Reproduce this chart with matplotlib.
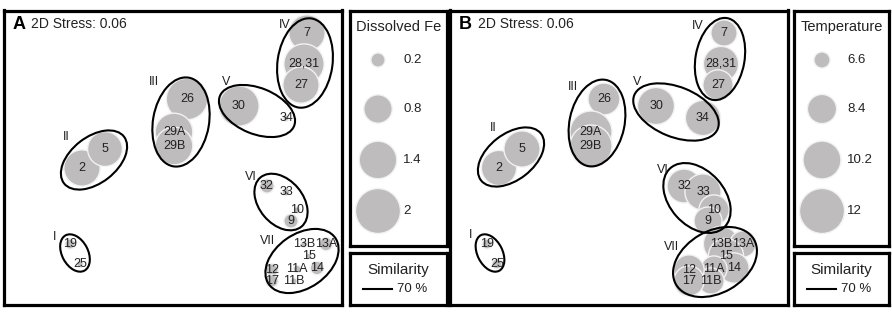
import matplotlib
matplotlib.use("Agg")
import matplotlib.pyplot as plt
from matplotlib.patches import Circle, Ellipse
import numpy as np

plt.rcParams['font.family'] = ['Liberation Sans', 'DejaVu Sans']

# ---------------- data ----------------
samples = ['19', '25', '2', '5', '26', '29A', '29B', '30', '34', '7', '28,31', '27',
           '32', '33', '10', '9', '13B', '13A', '15', '14', '11A', '11B', '12', '17']
mds1 = [-1.20, -1.10, -1.08, -0.85, -0.03, -0.16, -0.16, 0.49, 0.96, 1.17, 1.14, 1.11,
        0.77, 0.96, 1.07, 1.01, 1.14, 1.36, 1.19, 1.27, 1.07, 1.04, 0.82, 0.82]
mds2 = [-0.94, -1.14, -0.18, 0.01, 0.51, 0.18, 0.04, 0.44, 0.32, 1.17, 0.86, 0.65,
        -0.36, -0.42, -0.60, -0.71, -0.94, -0.94, -1.06, -1.18, -1.19, -1.31, -1.20, -1.31]
dissolved_fe = [0.10, 0.04, 1.3, 1.2, 1.7, 1.4, 1.4, 1.6, 0.04, 1.3, 1.6, 1.3,
                0.20, 0.06, 0.04, 0.20, 0.04, 0.18, 0.03, 0.18, 0.06, 0.04, 0.15, 0.15]
temperature = [6.1, 6.1, 9.6, 9.8, 8.9, 11.2, 11.2, 10.0, 9.6, 7.9, 9.6, 8.6,
               9.3, 9.8, 8.6, 8.2, 9.6, 7.9, 9.6, 8.6, 7.9, 7.9, 8.6, 8.6]

fe_legend = [0.2, 0.8, 1.4, 2]
fe_legend_labels = ['0.2', '0.8', '1.4', '2']
temp_legend = [6.6, 8.4, 10.2, 12]
temp_legend_labels = ['6.6', '8.4', '10.2', '12']

clusters = ['I', 'II', 'III', 'IV', 'V', 'VI', 'VII']
# 70 % similarity contours, panel A
a_cx = [-1.15, -0.96, -0.09, 1.15, 0.67, 0.91, 1.12]
a_cy = [-1.03, -0.10, 0.28, 0.87, 0.39, -0.52, -1.11]
a_major = [0.40, 0.76, 0.90, 0.90, 0.80, 0.64, 0.81]
a_minor = [0.26, 0.46, 0.56, 0.55, 0.46, 0.44, 0.54]
a_angle = [-62, 38, 80, 82, -22, -50, 35]
a_lab_x = [-1.35, -1.24, -0.36, 0.95, 0.36, 0.61, 0.77]
a_lab_y = [-0.87, 0.13, 0.68, 1.25, 0.68, -0.27, -0.91]
# panel B
b_cx = [-1.17, -0.96, -0.10, 1.13, 0.69, 0.90, 1.08]
b_cy = [-1.03, -0.07, 0.27, 0.91, 0.38, -0.48, -1.12]
b_major = [0.40, 0.76, 0.88, 0.83, 0.90, 0.80, 0.90]
b_minor = [0.25, 0.46, 0.55, 0.49, 0.50, 0.55, 0.62]
b_angle = [-63, 38, 78, 80, -22, -48, 30]
b_lab_x = [-1.36, -1.14, -0.34, 0.91, 0.30, 0.56, 0.65]
b_lab_y = [-0.85, 0.22, 0.63, 1.24, 0.68, -0.20, -0.97]

stress = 0.06

# ---------------- layout helpers ----------------
W, H = 892, 314
PX_PER_UNIT = 100.0
fig = plt.figure(figsize=(W / 100, H / 100), dpi=100)

BUBBLE = '#bebcbd'
EDGE = '#f2f2f2'
TXT = '#222222'


def fe_radius(v):
    return 0.159 * np.sqrt(v)


def temp_radius(v):
    return 0.225 * np.sqrt(max(v - 5.8, 0) / 6.2)


def box_axes(x0, y0, x1, y1, lw=2.3):
    ax = fig.add_axes([x0 / W, 1 - y1 / H, (x1 - x0) / W, (y1 - y0) / H])
    ax.set_xticks([])
    ax.set_yticks([])
    for s in ax.spines.values():
        s.set_linewidth(lw)
        s.set_color('black')
    return ax


def panel(x0, y0, x1, y1, left_val, top_val, sizes, cx, cy, maj, mnr, ang, lx, ly, letter):
    ax = box_axes(x0, y0, x1, y1)
    ax.set_xlim(left_val, left_val + (x1 - x0) / PX_PER_UNIT)
    ax.set_ylim(top_val - (y1 - y0) / PX_PER_UNIT, top_val)
    for x, y, r in zip(mds1, mds2, sizes):
        ax.add_patch(Circle((x, y), r, facecolor=BUBBLE, edgecolor=EDGE, lw=1.0, zorder=2))
    for x, y, s in zip(mds1, mds2, samples):
        ax.text(x, y, s, ha='center', va='center', fontsize=9, color=TXT, zorder=4)
    for i, c in enumerate(clusters):
        ax.add_patch(Ellipse((cx[i], cy[i]), maj[i], mnr[i], angle=ang[i],
                             fill=False, edgecolor='black', lw=1.5, zorder=3))
        ax.text(lx[i], ly[i], c, ha='center', va='center', fontsize=9, color=TXT, zorder=4)
    fig.text((x0 + 9) / W, 1 - (y0 + 14) / H, letter, fontsize=13, fontweight='bold',
             ha='left', va='center', color='black')
    fig.text((x0 + 28) / W, 1 - (y0 + 13) / H, f'2D Stress: {stress:.2f}', fontsize=10,
             ha='left', va='center', color=TXT)
    return ax


def legend_box(x0, y0, x1, y1, title, values, labels, radius_fn):
    ax = box_axes(x0, y0, x1, y1)
    w, h = x1 - x0, y1 - y0
    ax.set_xlim(0, w)
    ax.set_ylim(h, 0)
    ax.text(w / 2, 16, title, ha='center', va='center', fontsize=10.5, color=TXT)
    ys = [49, 98, 149, 200]
    for v, lab, yy in zip(values, labels, ys):
        r = radius_fn(v) * PX_PER_UNIT
        ax.add_patch(Circle((28, yy), r, facecolor=BUBBLE, edgecolor=EDGE, lw=1.0))
        ax.text(53, yy, lab, ha='left', va='center', fontsize=9.5, color=TXT)


def similarity_box(x0, y0, x1, y1):
    ax = box_axes(x0, y0, x1, y1)
    w, h = x1 - x0, y1 - y0
    ax.set_xlim(0, w)
    ax.set_ylim(h, 0)
    ax.text(w / 2, 17, 'Similarity', ha='center', va='center', fontsize=11, color=TXT)
    ax.plot([13, 42], [36, 36], color='black', lw=1.5)
    ax.text(47, 36, '70 %', ha='left', va='center', fontsize=9.5, color=TXT)


fe_sizes = [fe_radius(v) for v in dissolved_fe]
temp_sizes = [temp_radius(v) for v in temperature]

panel(3.5, 10.5, 342, 305, -1.865, 1.395, fe_sizes,
      a_cx, a_cy, a_major, a_minor, a_angle, a_lab_x, a_lab_y, 'A')
legend_box(350, 11, 447, 246, 'Dissolved Fe', fe_legend, fe_legend_labels, fe_radius)
similarity_box(350, 253, 447, 305)

panel(450, 10.5, 788, 305, -1.57, 1.395, temp_sizes,
      b_cx, b_cy, b_major, b_minor, b_angle, b_lab_x, b_lab_y, 'B')
legend_box(794, 11, 889, 246, 'Temperature', temp_legend, temp_legend_labels, temp_radius)
similarity_box(794, 253, 889, 305)

fig.savefig('out.png', dpi=100)
